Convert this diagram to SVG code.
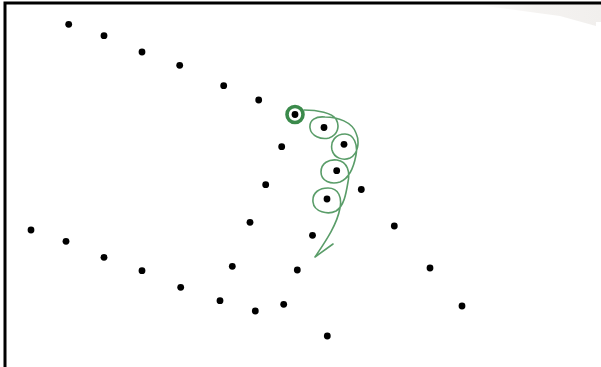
<svg xmlns="http://www.w3.org/2000/svg" width="601" height="367" viewBox="0 0 601 367">
  <style>
    .dot { fill: #000; }
    .frame { stroke: #000; stroke-width: 3; fill: none; }
    .trail { fill: none; stroke: #5a9d69; stroke-width: 1.6; stroke-linecap: round; stroke-linejoin: round; }
    .ring { fill: none; stroke: #3b8a4b; stroke-width: 3.6; }
  </style>
  <defs>
    <linearGradient id="shade" x1="0" y1="0" x2="1" y2="0">
      <stop offset="0" stop-color="#f4f2f0" stop-opacity="0"/>
      <stop offset="0.5" stop-color="#f3f1ef" stop-opacity="0.9"/>
      <stop offset="1" stop-color="#f1efed"/>
    </linearGradient>
  </defs>
  <rect x="0" y="0" width="601" height="367" fill="#fff"/>
  <polygon points="470,4 601,4 601,22 596,22 596,26 560,16" fill="url(#shade)"/>
  <path class="frame" d="M5,367 V3 H601"/>

  <g id="nodes">
    <g id="n1"><circle class="dot" cx="68.7" cy="24.3" r="3.4"/></g>
    <g id="n2"><circle class="dot" cx="104" cy="35.7" r="3.4"/></g>
    <g id="n3"><circle class="dot" cx="142" cy="52" r="3.4"/></g>
    <g id="n4"><circle class="dot" cx="179.7" cy="65.3" r="3.4"/></g>
    <g id="n5"><circle class="dot" cx="223.7" cy="85.7" r="3.4"/></g>
    <g id="n6"><circle class="dot" cx="258.7" cy="100" r="3.4"/></g>
    <g id="n7"><circle class="ring" cx="295" cy="114.5" r="8"/><circle class="dot" cx="295" cy="114.5" r="3.4"/></g>
    <g id="n8"><circle class="dot" cx="281.7" cy="146.7" r="3.4"/></g>
    <g id="n9"><circle class="dot" cx="265.7" cy="184.7" r="3.4"/></g>
    <g id="n10"><circle class="dot" cx="250" cy="222.3" r="3.4"/></g>
    <g id="n11"><circle class="dot" cx="31" cy="230" r="3.4"/></g>
    <g id="n12"><circle class="dot" cx="66" cy="241.3" r="3.4"/></g>
    <g id="n13"><circle class="dot" cx="104" cy="257.3" r="3.4"/></g>
    <g id="n14"><circle class="dot" cx="142" cy="270.7" r="3.4"/></g>
    <g id="n15"><circle class="dot" cx="180.7" cy="287.3" r="3.4"/></g>
    <g id="n16"><circle class="dot" cx="220" cy="300.7" r="3.4"/></g>
    <g id="n17"><circle class="dot" cx="255.3" cy="311" r="3.4"/></g>
    <g id="n18"><circle class="dot" cx="283.7" cy="304.3" r="3.4"/></g>
    <g id="n19"><circle class="dot" cx="232.3" cy="266.3" r="3.4"/></g>
    <g id="n20"><circle class="dot" cx="297.3" cy="270" r="3.4"/></g>
    <g id="n21"><circle class="dot" cx="324" cy="127.5" r="3.4"/></g>
    <g id="n22"><circle class="dot" cx="344" cy="144.3" r="3.4"/></g>
    <g id="n23"><circle class="dot" cx="336.7" cy="170.7" r="3.4"/></g>
    <g id="n24"><circle class="dot" cx="327" cy="199" r="3.4"/></g>
    <g id="n25"><circle class="dot" cx="361.3" cy="189.5" r="3.4"/></g>
    <g id="n26"><circle class="dot" cx="394.3" cy="226" r="3.4"/></g>
    <g id="n27"><circle class="dot" cx="312.5" cy="235.3" r="3.4"/></g>
    <g id="n28"><circle class="dot" cx="430" cy="268" r="3.4"/></g>
    <g id="n29"><circle class="dot" cx="462" cy="306" r="3.4"/></g>
    <g id="n30"><circle class="dot" cx="327.3" cy="336" r="3.4"/></g>
  </g>

  <g id="connectors">
    <path class="trail" d="M304,110
      C318,110 332,113 336,119
      C340,126 338,135 329,138
      C321,140 311,136 310,128
      C309,120 316,116 325,117
      C338,117 352,122 356,133
      C360,142 358,154 350,158
      C343,161 334,158 332,150
      C330,141 336,134 345,134
      C354,134 358,145 356,155
      C354,166 350,178 340,182
      C331,185 321,181 321,172
      C321,163 329,159 337,160
      C348,162 350,172 348,182
      C346,194 344,206 336,211
      C328,215 314,212 313,202
      C312,192 320,188 328,188
      C339,188 342,198 340,208
      C337,225 325,242 315,257
      L333,244"/>
  </g>
</svg>
